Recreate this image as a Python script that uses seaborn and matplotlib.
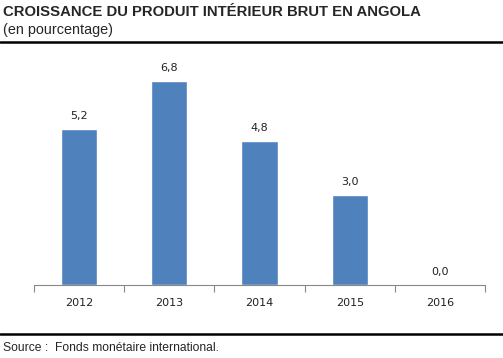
import numpy as np
import pandas as pd
import matplotlib
matplotlib.use("Agg")
import matplotlib.pyplot as plt
from matplotlib.lines import Line2D
import seaborn as sns

years = ["2012", "2013", "2014", "2015", "2016"]
growth = [5.2, 6.8, 4.8, 3.0, 0.0]

df = pd.DataFrame({"year": years, "growth": growth})

sns.set_style("white")
plt.rcParams["font.family"] = ["Liberation Sans", "DejaVu Sans"]

fig = plt.figure(figsize=(5.03, 3.58), dpi=100)
ax = fig.add_axes([34 / 503, 73 / 358, 451 / 503, 234 / 358])

sns.barplot(data=df, x="year", y="growth", color="#4F81BD", saturation=1,
            width=0.4, ax=ax)

ax.set_xlim(-0.5, 4.5)
ax.set_ylim(0, 7.8)
ax.set_xlabel("")
ax.set_ylabel("")
ax.set_yticks([])

num_font = "DejaVu Sans"

# value labels
for i, v in enumerate(growth):
    ax.annotate(f"{v:.1f}".replace(".", ","), (i, v), xytext=(0, 6),
                textcoords="offset points", ha="center", va="bottom",
                fontsize=8, color="#222222", family=num_font)

# category boundaries as ticks
ax.set_xticks(range(len(years)))
ax.set_xticklabels(years, fontsize=8, color="#222222", family=num_font)
ax.tick_params(axis="x", which="major", length=0, pad=9)
ax.set_xticks(np.arange(-0.5, len(years)), minor=True)
ax.tick_params(axis="x", which="minor", length=5, width=0.8,
               color="#888888", direction="out", bottom=True)

for side in ["top", "left", "right"]:
    ax.spines[side].set_visible(False)
ax.spines["bottom"].set_color("#888888")
ax.spines["bottom"].set_linewidth(0.8)

fig.text(3 / 503, 1 - 12 / 358, "CROISSANCE DU PRODUIT INTÉRIEUR BRUT EN ANGOLA",
         fontsize=10.7, fontweight="bold", va="center", ha="left")
fig.text(3 / 503, 1 - 30 / 358, "(en pourcentage)", fontsize=10.4,
         va="center", ha="left")
fig.add_artist(Line2D([0, 1], [1 - 42 / 358, 1 - 42 / 358], color="black",
                      linewidth=1.8, transform=fig.transFigure))
fig.add_artist(Line2D([0, 1], [1 - 334 / 358, 1 - 334 / 358], color="black",
                      linewidth=1.8, transform=fig.transFigure))
fig.text(3 / 503, 1 - 348 / 358, "Source :  Fonds monétaire international.",
         fontsize=8.7, va="center", ha="left")

fig.savefig("out.png", dpi=100)
